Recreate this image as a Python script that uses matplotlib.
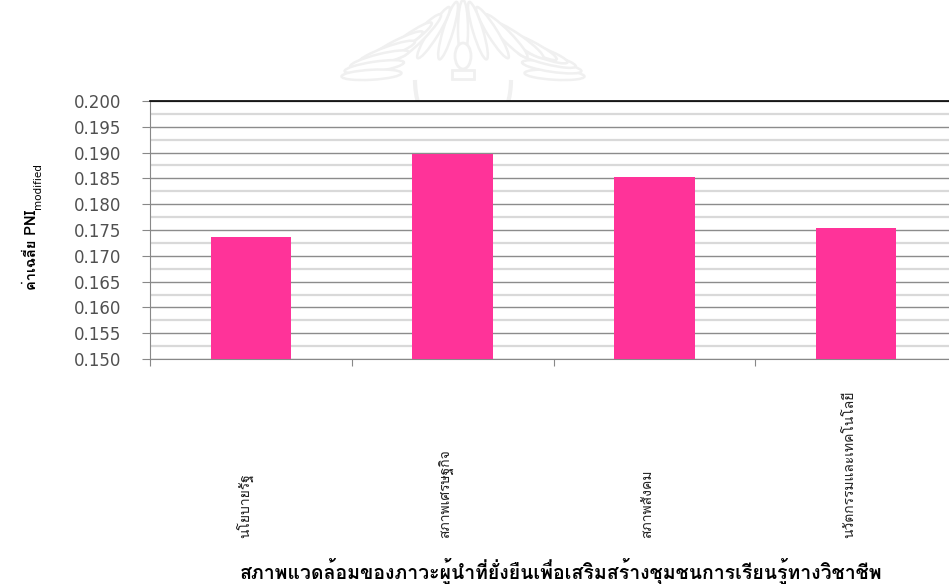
import matplotlib
matplotlib.use("Agg")
import matplotlib.pyplot as plt
from matplotlib.patches import Ellipse, Rectangle, Arc
from matplotlib.ticker import MultipleLocator, FormatStrFormatter
from matplotlib.transforms import blended_transform_factory
import numpy as np

# ค่าเฉลี่ย PNI modified ของแต่ละด้าน
categories = ["นโยบายรัฐ", "สภาพเศรษฐกิจ", "สภาพสังคม", "นวัตกรรมและเทคโนโลยี"]
pni_values = [0.1737, 0.1897, 0.1852, 0.1753]
y_ticks = [0.150, 0.155, 0.160, 0.165, 0.170, 0.175, 0.180, 0.185, 0.190, 0.195, 0.200]

x_title = "สภาพแวดล้อมของภาวะผู้นำที่ยั่งยืนเพื่อเสริมสร้างชุมชนการเรียนรู้ทางวิชาชีพ"
y_title = "ค่าเฉลี่ย PNI"
y_sub = "modified"

thai = ["Loma", "Noto Sans Thai Looped", "DejaVu Sans"]

W, H = 949, 584
fig = plt.figure(figsize=(W / 100, H / 100), dpi=100)

# faint emblem in the page header
deco = fig.add_axes([0, 0, 1, 1], zorder=-5)
deco.set_xlim(0, W)
deco.set_ylim(H, 0)
deco.axis("off")
cx, cy = 463, 80
wm = "#f0f0f0"
for ang in np.linspace(6, 174, 19):
    t = np.radians(ang)
    rx, ry = 92, 50
    px = cx + rx * np.cos(t)
    py = cy - ry * np.sin(t)
    rot = np.degrees(np.arctan2(ry * np.sin(t), rx * np.cos(t)))
    deco.add_patch(Ellipse((px, py), 60, 10, angle=rot, facecolor="white",
                           edgecolor=wm, lw=1.8))
deco.add_patch(Arc((cx, cy), 96, 130, theta1=0, theta2=180, color=wm, lw=3))
deco.add_patch(Ellipse((cx, 56), 16, 26, facecolor="white", edgecolor=wm, lw=2))
deco.add_patch(Rectangle((cx - 11, 70), 22, 9, facecolor="white", edgecolor=wm, lw=2))

# main plot area
ax = fig.add_axes([150 / W, 1 - 359 / H, 807 / W, 258 / H])
x = np.arange(len(categories))
ax.bar(x, pni_values, width=0.4, color="#ff3399", zorder=3)

ax.set_xlim(-0.5, len(categories) - 0.5)
ax.set_ylim(y_ticks[0], y_ticks[-1])
ax.set_yticks(y_ticks)
ax.yaxis.set_major_formatter(FormatStrFormatter("%.3f"))
ax.yaxis.set_minor_locator(MultipleLocator(0.0025))
ax.grid(axis="y", which="major", color="#8c8c8c", lw=1.0)
ax.grid(axis="y", which="minor", color="#d9d9d9", lw=1.6)
ax.set_axisbelow(True)

ax.set_xticks(np.arange(len(categories) + 1) - 0.5)
ax.set_xticklabels([])
ax.tick_params(axis="x", direction="out", length=5, color="#888888")
ax.tick_params(axis="y", which="major", direction="out", length=6, color="#888888",
               labelsize=12, labelcolor="#505050", pad=15)
ax.tick_params(axis="y", which="minor", length=0)
for lbl in ax.get_yticklabels():
    lbl.set_family("DejaVu Sans")

ax.spines["right"].set_visible(False)
ax.spines["top"].set_color("black")
ax.spines["top"].set_linewidth(1.2)
ax.spines["left"].set_color("#888888")
ax.spines["bottom"].set_color("#888888")

# category names, vertical, aligned at the bottom
tr = blended_transform_factory(ax.transData, fig.transFigure)
for i, name in enumerate(categories):
    ax.text(i - 0.03, 1 - 538 / H, name, transform=tr, rotation=90,
            ha="center", va="bottom", fontsize=10, family=thai, color="#202020")

# axis titles
fig.text(561 / W, 1 - 579 / H, x_title, ha="center", va="baseline",
         fontsize=14, fontweight="bold", family=thai)
ylab = fig.text(32 / W, 1 - 290 / H, y_title, rotation=90, ha="center", va="bottom",
                fontsize=10.5, fontweight="bold", family=thai)

# subscript placed right after the rotated title
fig.canvas.draw()
bb = ylab.get_window_extent()
fig.text((bb.x1 - 1) / W, (bb.y1 + 1) / H, y_sub, rotation=90, ha="center",
         va="bottom", fontsize=7.5, family=["DejaVu Sans"])

fig.savefig("out.png", dpi=100)
